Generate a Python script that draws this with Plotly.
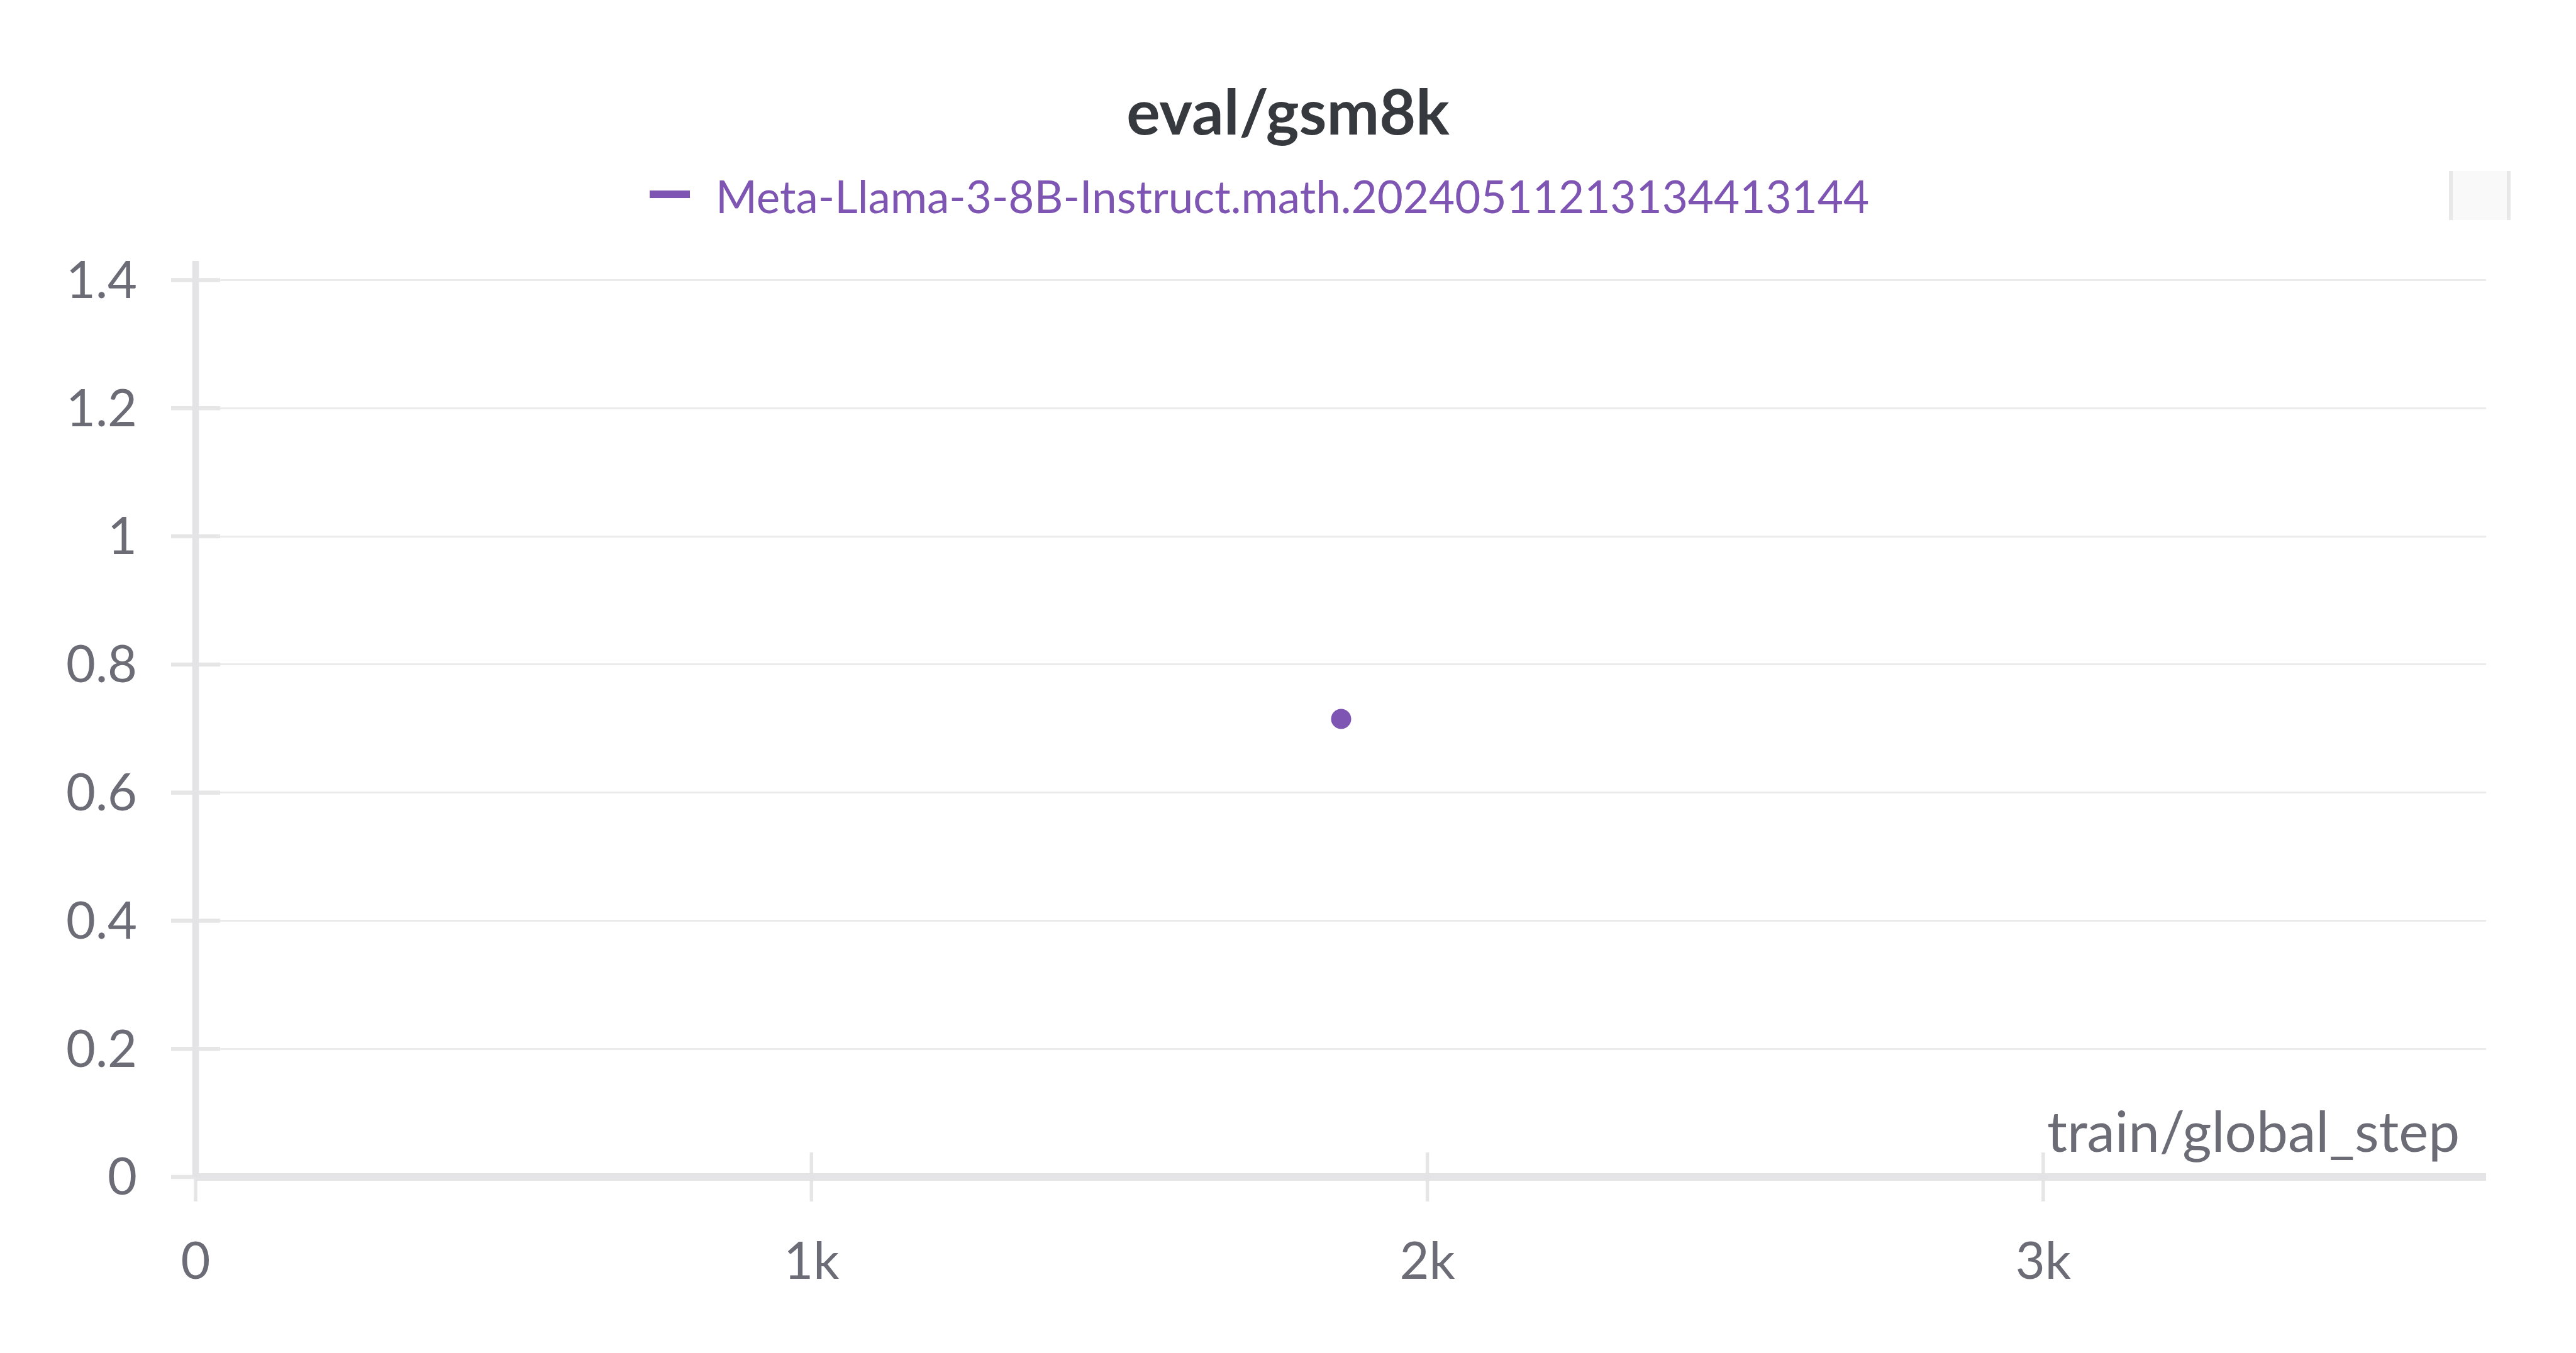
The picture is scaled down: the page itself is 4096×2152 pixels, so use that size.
import plotly.graph_objects as go

# ---------------- data ----------------
run_name = "Meta-Llama-3-8B-Instruct.math.20240511213134413144"
steps = [1860]
gsm8k = [0.715]
x_tickvals = [0, 1000, 2000, 3000]
x_ticktext = ["0", "1k", "2k", "3k"]
y_tickvals = [0, 0.2, 0.4, 0.6, 0.8, 1.0, 1.2, 1.4]
y_ticktext = ["0", "0.2", "0.4", "0.6", "0.8", "1", "1.2", "1.4"]
x_range = [0, 3719]
y_range = [0, 1.43]

# ---------------- geometry ----------------
W, H = 4096, 2152
L, R, T, B = 311, 143, 415, 280
PW = W - L - R
PH = H - T - B

FONT = "Lato, 'Source Sans Pro', sans-serif"
PURPLE = "#7e55b3"
LABEL = "#6b6c76"
AXIS = "#e4e4e7"
GRID = "#ebebeb"


def px(xp):
    return (xp - L) / PW


def py(yp):
    return (H - B - yp) / PH


def xv(v):
    return (v - x_range[0]) / (x_range[1] - x_range[0])


def yv(v):
    return (v - y_range[0]) / (y_range[1] - y_range[0])


fig = go.Figure()
fig.add_trace(go.Scatter(
    x=steps, y=gsm8k, mode="markers", name=run_name,
    marker=dict(size=32, color=PURPLE, line=dict(width=0)),
    showlegend=False,
))

shapes = []
# grid-crossing tick marks on y
for v in y_tickvals:
    shapes.append(dict(type="line", xref="paper", yref="paper", layer="above",
                       xsizemode="pixel", xanchor=0, x0=-39, x1=39,
                       y0=yv(v), y1=yv(v), line=dict(color="#e6e6e6", width=6.5)))
for v in x_tickvals:
    shapes.append(dict(type="line", xref="paper", yref="paper", layer="above",
                       ysizemode="pixel", yanchor=0, y0=-39, y1=39,
                       x0=xv(v), x1=xv(v), line=dict(color="#e6e6e6", width=5.5)))
# axis lines
shapes.append(dict(type="line", xref="paper", yref="paper", layer="above",
                   x0=0, x1=1, y0=0, y1=0, line=dict(color=AXIS, width=12)))
shapes.append(dict(type="line", xref="paper", yref="paper", layer="above",
                   x0=0, x1=0, y0=0, y1=1, line=dict(color=AXIS, width=10.5)))
# legend swatch
shapes.append(dict(type="rect", xref="paper", yref="paper",
                   xsizemode="pixel", ysizemode="pixel",
                   xanchor=px(1033), yanchor=py(309),
                   x0=0, x1=64, y0=-6, y1=6,
                   fillcolor=PURPLE, line=dict(width=0)))
# top-right small box
shapes.append(dict(type="rect", xref="paper", yref="paper",
                   x0=px(3894), x1=px(3992), y0=py(350), y1=py(272),
                   fillcolor="#f9f9f9", line=dict(width=0)))
for xx in (3897, 3989):
    shapes.append(dict(type="line", xref="paper", yref="paper",
                       x0=px(xx), x1=px(xx), y0=py(350), y1=py(272),
                       line=dict(color="#e8e8e8", width=6)))

annotations = [
    dict(text=run_name, xref="paper", yref="paper", x=px(1136), y=py(311),
         xanchor="left", yanchor="middle", showarrow=False,
         font=dict(family=FONT, size=71, color=PURPLE)),
    dict(text="train/global_step", xref="paper", yref="paper", x=1, y=0,
         xanchor="right", yanchor="bottom", xshift=-40, yshift=19, showarrow=False,
         font=dict(family=FONT, size=89, color=LABEL)),
]

fig.update_layout(
    width=W, height=H,
    margin=dict(l=L, r=R, t=T, b=B, pad=0),
    paper_bgcolor="white", plot_bgcolor="white",
    title=dict(text="<b>eval/gsm8k</b>", x=0.5, xref="container", xanchor="center",
               y=1 - 179 / H, yref="container", yanchor="middle",
               font=dict(family=FONT, size=100, color="#363a3e")),
    showlegend=False,
    shapes=shapes,
    annotations=annotations,
    xaxis=dict(range=x_range, tickmode="array", tickvals=x_tickvals, ticktext=x_ticktext,
               showgrid=False, zeroline=False, showline=False, ticks="",
               ticklabelstandoff=80,
               tickfont=dict(family=FONT, size=81, color=LABEL)),
    yaxis=dict(range=y_range, tickmode="array", tickvals=y_tickvals, ticktext=y_ticktext,
               showgrid=True, gridcolor=GRID, gridwidth=3, zeroline=False, showline=False,
               ticks="", ticklabelstandoff=92,
               tickfont=dict(family=FONT, size=81, color=LABEL)),
)

fig.write_html("out.html")
